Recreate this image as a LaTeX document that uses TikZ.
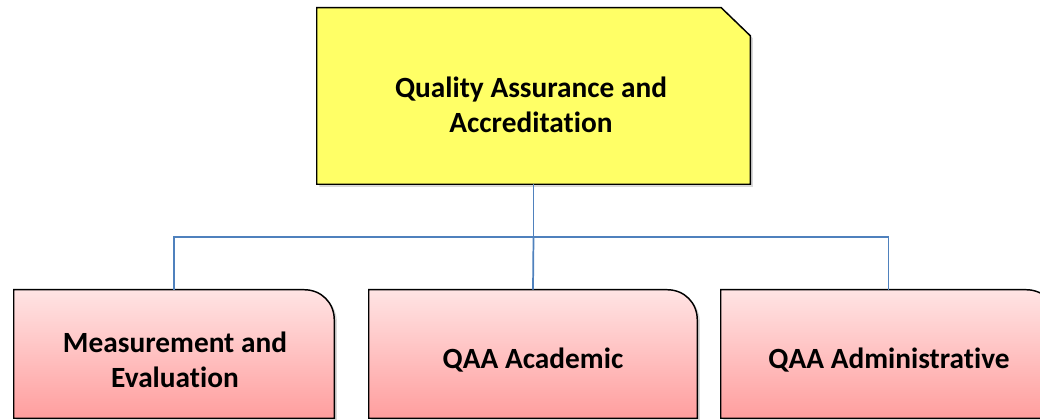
\documentclass[tikz,border=0pt]{standalone}
\usepackage{fontspec}
\setmainfont{Carlito}[Ligatures=NoCommon]
\usetikzlibrary{calc,shadows}
\definecolor{qaaYellow}{RGB}{255,255,102}
\definecolor{unitTop}{RGB}{255,228,228}
\definecolor{unitBottom}{RGB}{255,158,158}
\definecolor{linkBlue}{RGB}{79,129,189}
\begin{document}
\begin{tikzpicture}[x=0.75pt,y=0.75pt,yscale=-1,xscale=1,
  frame/.style={inner sep=0pt,minimum height=#1},
  outline/.style={draw=black,line width=1.1pt,line join=miter,
    drop shadow={opacity=0.3,shadow xshift=2pt,shadow yshift=-2pt}},
  unit/.style={outline,top color=unitTop,bottom color=unitBottom},
  link/.style={draw=linkBlue,line width=1.3pt},
  lbl/.style={inner sep=0.75pt,align=center,font=\fontsize{22}{26.4}\selectfont\bfseries}]
\path[use as bounding box,clip] (0,0) rectangle (1040,420);

%Shape: Snip corner box
\node[frame=132pt,minimum width=324.75pt] (qaa) at (533.5,96) {};
\draw[outline,fill=qaaYellow] (qaa.south west) -- (qaa.north west) -- ($(qaa.north east)+(-29,0)$) -- ($(qaa.north east)+(0,28)$) -- (qaa.south east) -- cycle ;

%Shape: Round corner boxes
\node[frame=96pt,minimum width=240pt] (measure) at (174,354) {};
\node[frame=96pt,minimum width=246pt] (academic) at (533,354) {};
\node[frame=96pt,minimum width=251.25pt] (admin) at (888.5,354) {};
\draw[unit] (measure.south west) -- (measure.north west) -- ($(measure.north east)+(-30,0)$) .. controls ($(measure.north east)+(-13,0)$) and ($(measure.north east)+(0,13)$) .. ($(measure.north east)+(0,30)$) -- (measure.south east) -- cycle ;
\draw[unit] (academic.south west) -- (academic.north west) -- ($(academic.north east)+(-30,0)$) .. controls ($(academic.north east)+(-13,0)$) and ($(academic.north east)+(0,13)$) .. ($(academic.north east)+(0,30)$) -- (academic.south east) -- cycle ;
\draw[unit] (admin.south west) -- (admin.north west) -- ($(admin.north east)+(-30,0)$) .. controls ($(admin.north east)+(-13,0)$) and ($(admin.north east)+(0,13)$) .. ($(admin.north east)+(0,30)$) -- (admin.south east) -- cycle ;

%Straight Lines
\coordinate (bus) at (533.5,237);
\draw[link] (qaa.south) -- (bus) ;
\draw[link] (measure.north) |- (bus) -| (admin.north) ;
\draw[link] (bus) -- (academic.north) ;

% Text Node
\node[lbl] (qaaText) at (531,105) {Quality Assurance and\\Accreditation};
% Text Node
\node[lbl] (measureText) at (175,360) {Measurement and\\Evaluation};
% Text Node
\node[lbl] (academicText) at (533,360) {QAA Academic};
% Text Node
\node[lbl] (adminText) at (889,360) {QAA Administrative};
\end{tikzpicture}
\end{document}
